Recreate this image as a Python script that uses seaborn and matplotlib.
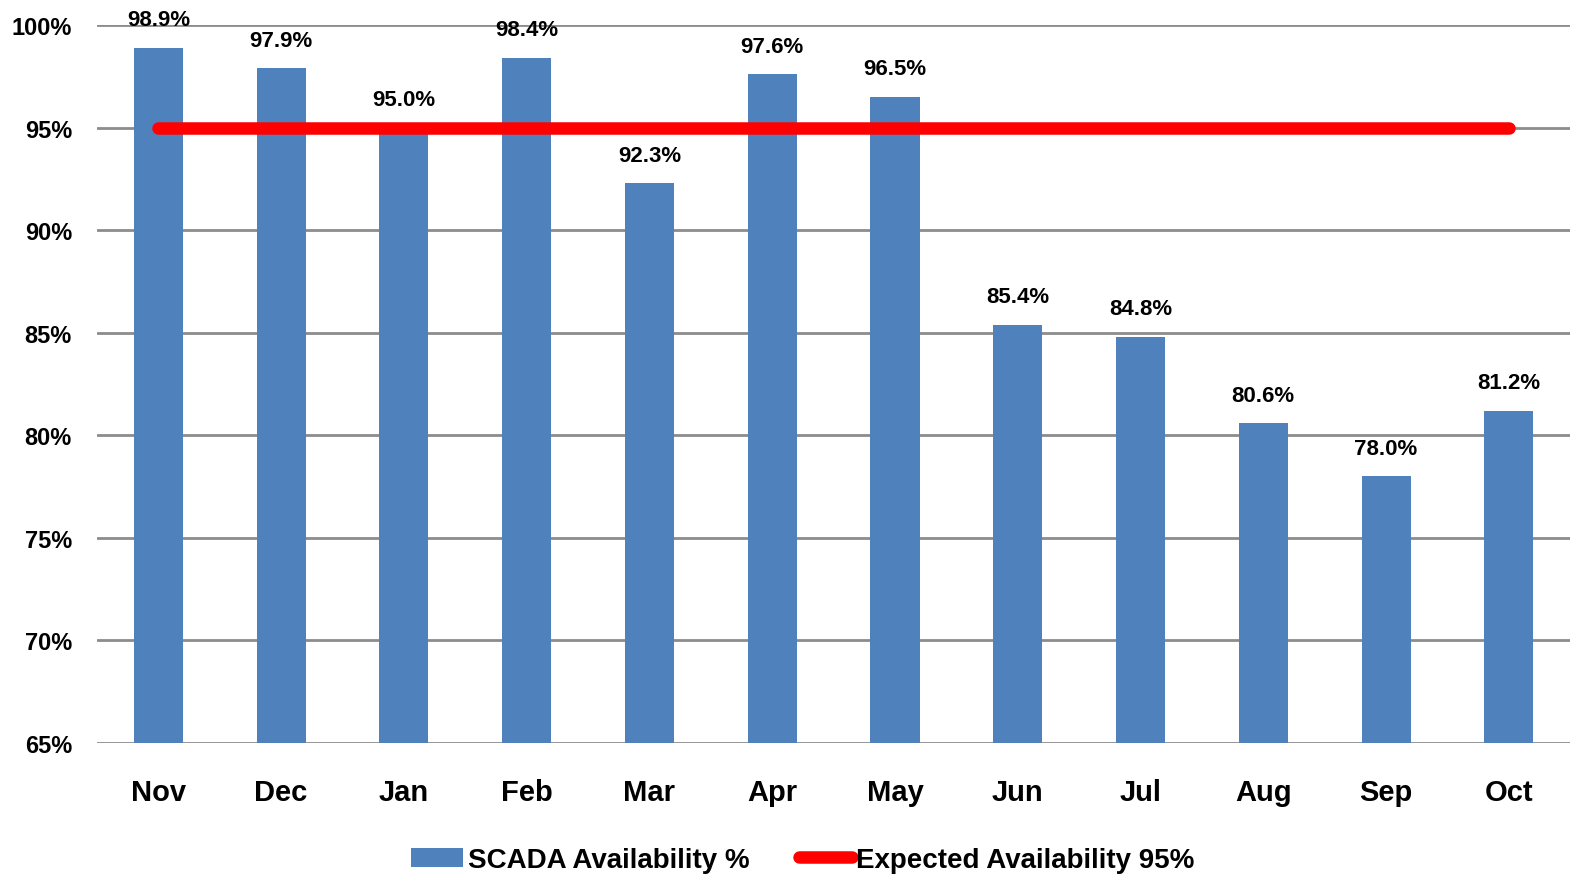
import matplotlib.pyplot as plt
import matplotlib.ticker as mticker
import seaborn as sns
import pandas as pd

months = ['Nov', 'Dec', 'Jan', 'Feb', 'Mar', 'Apr', 'May', 'Jun', 'Jul', 'Aug', 'Sep', 'Oct']
availability = [98.9, 97.9, 95.0, 98.4, 92.3, 97.6, 96.5, 85.4, 84.8, 80.6, 78.0, 81.2]
expected = [95.0] * 12
y_ticks = [65, 70, 75, 80, 85, 90, 95, 100]

df = pd.DataFrame({'Month': months, 'Availability': availability, 'Expected': expected})

sns.set_style('white')
plt.rcParams['font.family'] = ['Liberation Sans', 'DejaVu Sans']
plt.rcParams['font.weight'] = 'bold'
plt.rcParams['text.color'] = 'black'
plt.rcParams['xtick.color'] = 'black'
plt.rcParams['ytick.color'] = 'black'

fig = plt.figure(figsize=(15.74, 8.78), dpi=100)
ax = fig.add_axes([0.0616, 0.1526, 0.936, 0.8178])

for t in y_ticks:
    ax.axhline(t, color='#8c8c8c', lw=2, zorder=0)

sns.barplot(data=df, x='Month', y='Availability', color='#4F81BD', width=0.4,
            saturation=1, linewidth=0, edgecolor='none', ax=ax, zorder=2,
            label='SCADA Availability %')
ax.plot(df['Month'], df['Expected'], color='#FF0000', lw=9, solid_capstyle='round',
        zorder=3, label='Expected Availability 95%')

for i, v in enumerate(availability):
    ax.text(i, v + 0.85, f'{v:.1f}%', ha='center', va='bottom', fontsize=16,
            fontweight='bold', color='black')

ax.set_ylim(65, 100)
ax.set_xlim(-0.5, 11.5)
ax.set_yticks(y_ticks)
ax.yaxis.set_major_formatter(mticker.FuncFormatter(lambda v, p: f'{v:.0f}%'))
ax.set_xlabel('')
ax.set_ylabel('')
ax.tick_params(axis='both', length=0)
ax.tick_params(axis='y', labelsize=17, pad=18)
ax.tick_params(axis='x', labelsize=21, pad=25)
for lab in ax.get_xticklabels() + ax.get_yticklabels():
    lab.set_fontweight('bold')
for s in ax.spines.values():
    s.set_visible(False)

handles, labels = ax.get_legend_handles_labels()
order = [labels.index('SCADA Availability %'), labels.index('Expected Availability 95%')]
ax.legend([handles[i] for i in order], [labels[i] for i in order],
          loc='upper center', bbox_to_anchor=(0.479, -0.11), ncol=2, frameon=False,
          handlelength=1.9, columnspacing=1.8, handletextpad=0.15,
          prop={'weight': 'bold', 'size': 20})

fig.savefig('out.png', dpi=100)
